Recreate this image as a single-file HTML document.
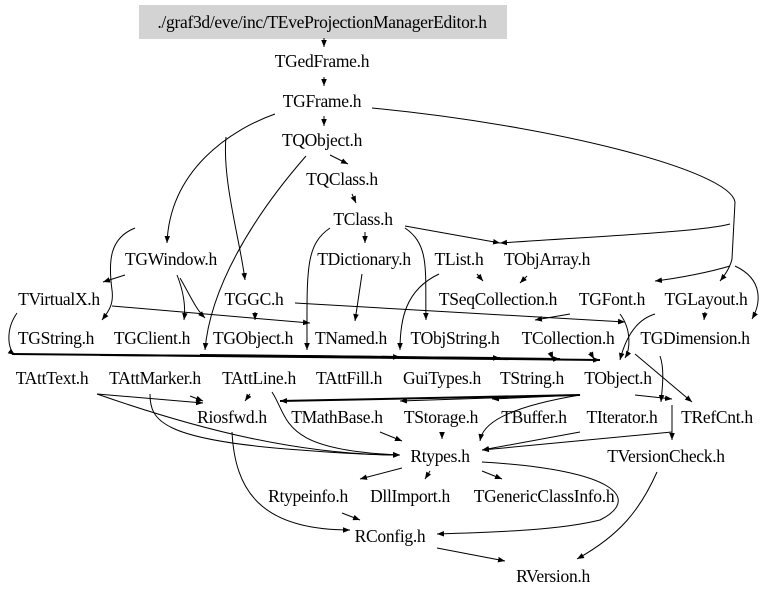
<!DOCTYPE html>
<html><head><meta charset="utf-8"><style>
html,body{margin:0;padding:0;background:#fff;width:779px;height:595px;overflow:hidden}
svg text{font-family:"Liberation Serif",serif;font-size:17.5px;fill:#000;text-anchor:middle;letter-spacing:-0.3px}
</style></head><body>
<svg width="779" height="595" viewBox="0 0 779 595" xmlns="http://www.w3.org/2000/svg">
<defs><marker id="a" viewBox="0 0 10 10" refX="10" refY="5" markerWidth="7" markerHeight="7" orient="auto" markerUnits="userSpaceOnUse"><path d="M0,1 L10,5 L0,9 z" fill="#000"/></marker></defs>
<rect x="139" y="5" width="368" height="34" fill="#d3d3d3"/>
<g fill="none" stroke="#000" stroke-width="1" marker-end="url(#a)">
<path d="M324,38 L324,47"/>
<path d="M324,77 L324,86"/>
<path d="M324,116 L324,126"/>
<path d="M330,155 L348,164"/>
<path d="M352,194 L356,203"/>
<path d="M365,232 L365,243"/>
<path d="M405,226 L500,243"/>
<path d="M405,228 C430,245 425,270 426,320"/>
<path d="M330,228 C305,245 307,270 307,350"/>
<path d="M275,114 C230,130 170,170 167,243"/>
<path d="M226,137 C222,180 240,240 245,280"/>
<path d="M306,156 C250,220 210,290 205,350"/>
<path d="M135,228 C110,238 108,260 112,290 C114,305 108,312 102,320"/>
<path d="M125,275 L103,282"/>
<path d="M177,275 C183,290 186,305 184,320"/>
<path d="M180,278 C190,295 195,308 205,318"/>
<path d="M112,306 L310,323"/>
<path d="M255,312 L255,320"/>
<path d="M295,303 L625,322"/>
<path d="M362,274 L355,321"/>
<path d="M477,274 L483,281"/>
<path d="M527,276 L520,283"/>
<path d="M439,274 C405,290 400,320 400,350"/>
<path d="M570,314 L535,320"/>
<path d="M620,314 C632,330 630,350 625,358"/>
<path d="M655,314 C635,320 625,340 620,360"/>
<path d="M705,312 L704,320"/>
<path d="M17,313 C5,330 8,350 15,355"/>
<path d="M590,352 L594,359"/>
<path d="M550,352 L553,359"/>
<path d="M635,354 L692,402"/>
<path d="M660,356 C665,370 662,390 661,402"/>
<path d="M672,405 L672,440"/>
<path d="M97,394 L203,403"/>
<path d="M97,394 C200,430 300,455 400,455"/>
<path d="M190,396 L203,401"/>
<path d="M150,394 C150,420 160,440 300,450 C350,454 380,455 400,455"/>
<path d="M250,394 L245,401"/>
<path d="M272,392 C290,420 280,450 400,455"/>
<path d="M580,395 L400,401"/>
<path d="M580,395 L492,399"/>
<path d="M580,395 C490,410 482,430 480,441"/>
<path d="M635,395 L672,399"/>
<path d="M380,432 L402,441"/>
<path d="M442,432 L442,439"/>
<path d="M580,432 L482,450"/>
<path d="M672,432 L482,450"/>
<path d="M232,432 C235,490 260,530 350,530"/>
<path d="M402,468 L360,479"/>
<path d="M430,471 L425,479"/>
<path d="M482,471 L502,479"/>
<path d="M482,462 C620,470 640,500 600,520 C560,530 500,532 437,534"/>
<path d="M342,513 L360,520"/>
<path d="M657,472 C640,510 620,535 577,559"/>
<path d="M437,548 L505,561"/>
<path d="M372,108 C550,125 730,170 735,202 L732,259 C730,268 725,275 720,281"/>
<path d="M730,224 C700,232 600,236 500,243"/>
<path d="M730,266 C710,272 680,278 655,281"/>
<path d="M735,266 C765,280 760,305 752,319"/>
</g>
<g fill="none" stroke="#000" stroke-width="2" marker-end="url(#a)">
<path d="M12,354 C200,356 400,357 600,360"/>
<path d="M100,355 L500,358"/>
<path d="M200,355 L400,357"/>
<path d="M300,356 L560,359"/>
<path d="M580,395 L280,401"/>
</g>
<text x="322" y="28">./graf3d/eve/inc/TEveProjectionManagerEditor.h</text>
<text x="322" y="67">TGedFrame.h</text>
<text x="322" y="107">TGFrame.h</text>
<text x="322" y="146">TQObject.h</text>
<text x="342" y="185">TQClass.h</text>
<text x="363" y="225">TClass.h</text>
<text x="171" y="265">TGWindow.h</text>
<text x="364" y="265">TDictionary.h</text>
<text x="459" y="265">TList.h</text>
<text x="547" y="265">TObjArray.h</text>
<text x="59" y="305">TVirtualX.h</text>
<text x="254" y="305">TGGC.h</text>
<text x="498" y="305">TSeqCollection.h</text>
<text x="612" y="305">TGFont.h</text>
<text x="706" y="305">TGLayout.h</text>
<text x="56" y="344">TGString.h</text>
<text x="152" y="344">TGClient.h</text>
<text x="253" y="344">TGObject.h</text>
<text x="351" y="344">TNamed.h</text>
<text x="455" y="344">TObjString.h</text>
<text x="568" y="344">TCollection.h</text>
<text x="695" y="344">TGDimension.h</text>
<text x="52" y="384">TAttText.h</text>
<text x="155" y="384">TAttMarker.h</text>
<text x="259" y="384">TAttLine.h</text>
<text x="349" y="384">TAttFill.h</text>
<text x="442" y="384">GuiTypes.h</text>
<text x="532" y="384">TString.h</text>
<text x="618" y="384">TObject.h</text>
<text x="232" y="423">Riosfwd.h</text>
<text x="337" y="423">TMathBase.h</text>
<text x="441" y="423">TStorage.h</text>
<text x="534" y="423">TBuffer.h</text>
<text x="622" y="423">TIterator.h</text>
<text x="717" y="423">TRefCnt.h</text>
<text x="440" y="462">Rtypes.h</text>
<text x="666" y="462">TVersionCheck.h</text>
<text x="308" y="502">Rtypeinfo.h</text>
<text x="410" y="502">DllImport.h</text>
<text x="544" y="502">TGenericClassInfo.h</text>
<text x="390" y="542">RConfig.h</text>
<text x="553" y="582">RVersion.h</text>
</svg>
</body></html>
